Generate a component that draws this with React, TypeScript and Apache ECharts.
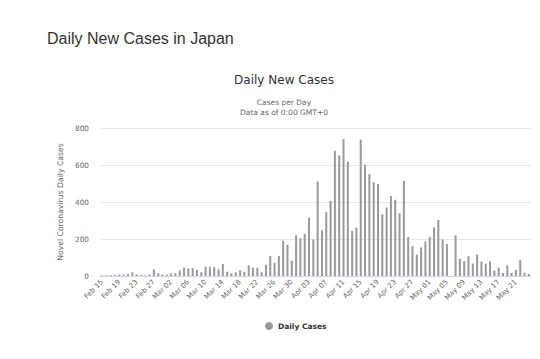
import React, { useEffect, useRef } from "react";
import * as echarts from "echarts";

const startDate = { year: 2020, month: 1, day: 15 }; // Feb 15, 2020
const monthNames = ["Jan", "Feb", "Mar", "Apr", "May", "Jun"];

const dailyCases = [
  3, 4, 5, 6, 8, 7, 11, 20, 9, 5,
  3, 8, 36, 15, 7, 8, 14, 15, 30, 45,
  40, 42, 33, 20, 50, 50, 48, 36, 65, 23,
  14, 20, 31, 23, 58, 45, 45, 20, 60, 108,
  72, 108, 190, 168, 83, 220, 204, 228, 316, 197,
  511, 247, 345, 406, 677, 652, 740, 619, 244, 262,
  737, 601, 551, 507, 497, 334, 370, 433, 412, 340,
  515, 211, 161, 116, 154, 186, 211, 262, 302, 197,
  173, 0, 220, 94, 81, 108, 67, 116, 78, 67,
  79, 29, 45, 16, 58, 16, 33, 87, 18, 11,
];

const yTicks = [0, 200, 400, 600, 800];

function buildCategories(n: number): string[] {
  const out: string[] = [];
  const d = new Date(Date.UTC(startDate.year, startDate.month, startDate.day));
  for (let i = 0; i < n; i++) {
    const dd = d.getUTCDate();
    out.push(`${monthNames[d.getUTCMonth()]} ${dd < 10 ? "0" + dd : dd}`);
    d.setUTCDate(d.getUTCDate() + 1);
  }
  return out;
}

const categories = buildCategories(dailyCases.length);

const FONT = "'DejaVu Sans', Verdana, sans-serif";

export default function App() {
  const ref = useRef<HTMLDivElement>(null);
  useEffect(() => {
    if (!ref.current) return;
    const chart = echarts.init(ref.current, undefined, { renderer: "svg" });
    chart.setOption({
      animation: false,
      backgroundColor: "#fff",
      graphic: [
        {
          type: "text",
          left: 47,
          top: 30,
          style: {
            text: "Daily New Cases in Japan",
            font: "16px 'Liberation Sans', Arial, sans-serif",
            fill: "#333",
          },
        },
        {
          type: "text",
          x: 284,
          y: 86,
          style: {
            text: "Daily New Cases",
            font: `12px ${FONT}`,
            fill: "#333",
            textAlign: "center",
            textVerticalAlign: "bottom",
          },
        },
        {
          type: "text",
          x: 284,
          y: 106,
          style: {
            text: "Cases per Day",
            font: `7.5px ${FONT}`,
            fill: "#666",
            textAlign: "center",
            textVerticalAlign: "bottom",
          },
        },
        {
          type: "text",
          x: 284,
          y: 116,
          style: {
            text: "Data as of 0:00 GMT+0",
            font: `7.5px ${FONT}`,
            fill: "#666",
            textAlign: "center",
            textVerticalAlign: "bottom",
          },
        },
      ],
      legend: {
        data: [{ name: "Daily Cases", icon: "circle" }],
        left: 260,
        top: 317,
        itemWidth: 8,
        itemHeight: 8,
        itemGap: 4,
        textStyle: {
          fontFamily: FONT,
          fontSize: 7.5,
          fontWeight: "bold",
          color: "#333",
        },
      },
      grid: { left: 100, right: 9, top: 128, bottom: 83 },
      xAxis: {
        type: "category",
        data: categories,
        axisLine: { lineStyle: { color: "#ccd6eb" } },
        axisTick: { show: false },
        axisLabel: {
          interval: 3,
          rotate: 45,
          fontSize: 7,
          fontFamily: FONT,
          color: "#666",
          margin: 5,
        },
      },
      yAxis: {
        type: "value",
        min: yTicks[0],
        max: yTicks[yTicks.length - 1],
        interval: 200,
        name: "Novel Coronavirus Daily Cases",
        nameLocation: "middle",
        nameGap: 33,
        nameTextStyle: { fontFamily: FONT, fontSize: 7.7, color: "#666" },
        axisLine: { show: false },
        axisTick: { show: false },
        axisLabel: { fontSize: 7.3, fontFamily: FONT, color: "#666", margin: 11 },
        splitLine: { lineStyle: { color: "#e6e6e6" } },
      },
      series: [
        {
          name: "Daily Cases",
          type: "bar",
          data: dailyCases,
          barWidth: 2,
          itemStyle: { color: "#999" },
        },
      ],
    });
    return () => chart.dispose();
  }, []);
  return <div ref={ref} style={{ width: 540, height: 359, position: "absolute", left: 0, top: 0 }} />;
}
